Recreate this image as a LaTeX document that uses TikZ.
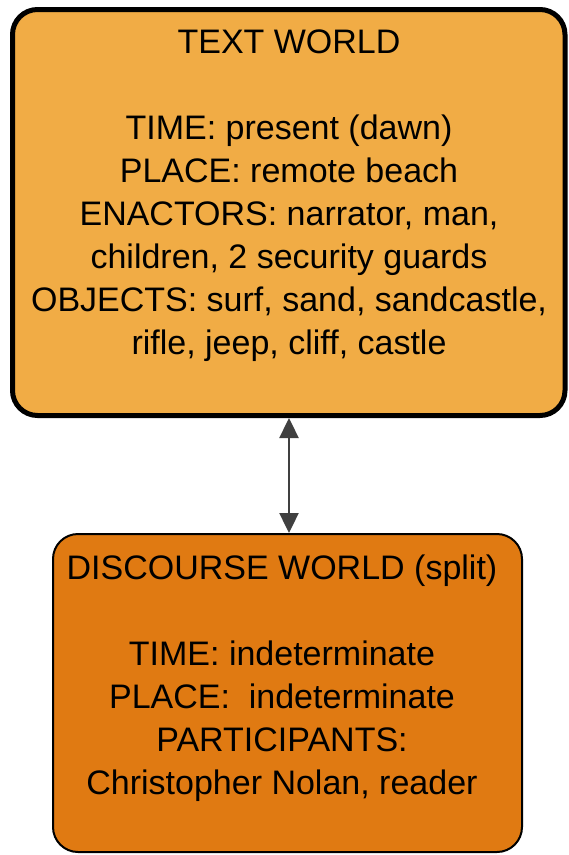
\documentclass[tikz,border=0pt]{standalone}
\usepackage{fontspec}
\setmainfont{Liberation Sans}
\usetikzlibrary{arrows.meta}
\definecolor{textworld}{RGB}{241,172,69}
\definecolor{discworld}{RGB}{224,122,18}
\definecolor{linkgrey}{RGB}{64,64,64}
\tikzset{
  worldbox/.style={rounded corners=25pt, inner sep=0pt, minimum width=#1},
  worldtext/.style={anchor=north, inner sep=0pt, align=center,
    font=\fontsize{34pt}{43pt}\selectfont, text=black},
  worldlink/.style={linkgrey, line width=2.4pt,
    {Triangle[length=20pt,width=19pt]}-{Triangle[length=20pt,width=19pt]}}
}
\begin{document}
\begin{tikzpicture}[x=1pt,y=-1pt]
  \useasboundingbox (0,0) rectangle (569,855);
  % upper box: the text world
  \node[worldbox=552.5pt, minimum height=406pt, draw=black, line width=5pt,
        fill=textworld] (tw) at (288.75,212.5) {};
  \node[worldtext] (twtext) at (289,30) {TEXT WORLD\\[43pt]
    TIME: present (dawn)\\
    PLACE: remote beach\\
    ENACTORS: narrator, man,\\
    children, 2 security guards\\
    OBJECTS: surf, sand, sandcastle,\\
    rifle, jeep, cliff, castle};
  % lower box: the discourse world
  \node[worldbox=469pt, minimum height=318pt, draw=black, line width=2pt,
        fill=discworld] (dw) at (287.5,693) {};
  \node[worldtext] (dwtext) at (282,555) {DISCOURSE WORLD (split)\\[43pt]
    TIME: indeterminate\\
    PLACE:\ \ indeterminate\\
    PARTICIPANTS:\\
    Christopher Nolan, reader};
  % two-way link between the worlds
  \draw[worldlink] (tw.south -| 289,0) -- (dw.north -| 289,0);
\end{tikzpicture}
\end{document}
